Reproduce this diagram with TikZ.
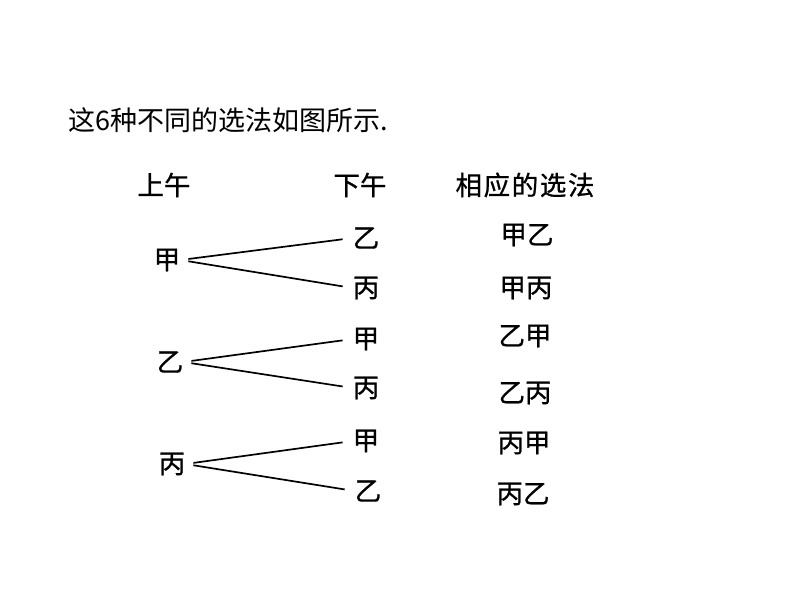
\documentclass[tikz,border=0pt]{standalone}
\usepackage{fontspec}
\setmainfont{Noto Sans CJK SC}
\newfontfamily\treefont[FakeBold=0.8]{Noto Sans CJK SC}
\begin{document}
\begin{tikzpicture}[x=1pt,y=-1pt,
  every node/.style={inner sep=0pt},
  word/.style={font=\treefont\fontsize{26.5}{26.5}\selectfont},
  branch/.style={line width=1.7pt, shorten <=8pt, shorten >=10pt}]
\useasboundingbox (0,0) rectangle (794,596);
\node[anchor=west, font=\fontsize{27}{27}\selectfont] (title) at (68,120) {这6种不同的选法如图所示.};
% column heads
\node[word] (am) at (164,185) {上午};
\node[word] (pm) at (360,185) {下午};
\node[word] (res) at (525,185) {\addfontfeature{LetterSpace=6}相应的选法};
% morning
\node[word] (a1) at (167,260) {甲};
\node[word] (a2) at (170,362) {乙};
\node[word] (a3) at (172,464) {丙};
% afternoon
\node[word] (b1) at (366,238) {乙};
\node[word] (b2) at (366,288) {丙};
\node[word] (b3) at (366,339) {甲};
\node[word] (b4) at (366,388) {丙};
\node[word] (b5) at (366,441) {甲};
\node[word] (b6) at (368,491) {乙};
% results
\node[word] (c1) at (527,235) {甲乙};
\node[word] (c2) at (526,288) {甲丙};
\node[word] (c3) at (525,336) {乙甲};
\node[word] (c4) at (525,393) {乙丙};
\node[word] (c5) at (524,443) {丙甲};
\node[word] (c6) at (523,494) {丙乙};
% branches
\draw[branch] (a1.east) -- (b1.west);
\draw[branch] (a1.east) -- (b2.west);
\draw[branch] (a2.east) -- (b3.west);
\draw[branch] (a2.east) -- (b4.west);
\draw[branch] (a3.east) -- (b5.west);
\draw[branch] (a3.east) -- (b6.west);
\end{tikzpicture}
\end{document}
